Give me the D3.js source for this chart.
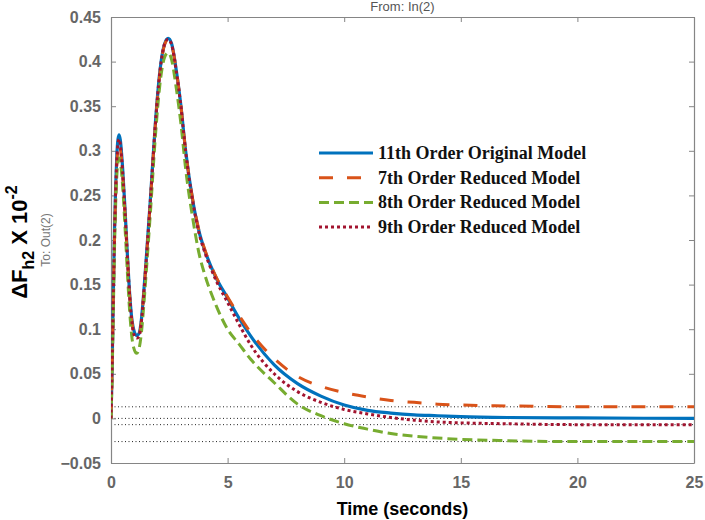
<!DOCTYPE html>
<html>
<head>
<meta charset="utf-8">
<script src="https://cdn.jsdelivr.net/npm/d3@7"></script>
<style>
  body { margin: 0; background: #fff; }
  svg { display: block; }
</style>
</head>
<body>
<div id="chart"></div>
<script>
// step response samples
const times = [0, 0.05, 0.1, 0.15, 0.2, 0.25, 0.3, 0.35, 0.4, 0.5, 0.6, 0.7, 0.8, 0.9, 1.0, 1.1, 1.2, 1.3, 1.4, 1.5, 1.7, 1.9, 2.1, 2.3, 2.45, 2.6, 2.8, 3.0, 3.2, 3.5, 3.8, 4.0, 4.5, 5, 5.5, 6, 7, 8, 9, 10, 11, 12, 13, 14, 15, 17, 20, 25]

const original11 = [0, 0.06, 0.14, 0.21, 0.26, 0.295, 0.313, 0.318, 0.312, 0.28, 0.235, 0.185, 0.14, 0.11, 0.097, 0.093, 0.095, 0.11, 0.14, 0.175, 0.25, 0.33, 0.39, 0.42, 0.426, 0.42, 0.39, 0.35, 0.30, 0.245, 0.207, 0.19, 0.158, 0.135, 0.112, 0.092, 0.060, 0.039, 0.025, 0.015, 0.009, 0.006, 0.004, 0.003, 0.002, 0.001, 0.0005, 0]
const reduced7 = [0, 0.058, 0.135, 0.2, 0.25, 0.285, 0.303, 0.308, 0.303, 0.273, 0.23, 0.182, 0.138, 0.108, 0.094, 0.091, 0.093, 0.108, 0.138, 0.173, 0.248, 0.328, 0.388, 0.419, 0.425, 0.419, 0.39, 0.35, 0.30, 0.246, 0.208, 0.191, 0.159, 0.136, 0.115, 0.096, 0.067, 0.047, 0.036, 0.029, 0.024, 0.020, 0.018, 0.016, 0.015, 0.014, 0.013, 0.013]
const reduced8 = [0, 0.05, 0.12, 0.19, 0.24, 0.272, 0.287, 0.292, 0.288, 0.26, 0.215, 0.165, 0.12, 0.09, 0.077, 0.073, 0.078, 0.095, 0.125, 0.16, 0.235, 0.315, 0.375, 0.405, 0.41, 0.402, 0.37, 0.33, 0.28, 0.225, 0.182, 0.163, 0.127, 0.10, 0.083, 0.066, 0.040, 0.016, 0.003, -0.006, -0.012, -0.017, -0.020, -0.022, -0.0235, -0.025, -0.026, -0.026]
const reduced9 = [0, 0.059, 0.138, 0.205, 0.255, 0.29, 0.308, 0.313, 0.307, 0.276, 0.232, 0.183, 0.138, 0.107, 0.093, 0.09, 0.092, 0.108, 0.138, 0.173, 0.249, 0.329, 0.389, 0.42, 0.425, 0.419, 0.389, 0.349, 0.299, 0.244, 0.205, 0.188, 0.155, 0.13, 0.105, 0.082, 0.050, 0.030, 0.018, 0.010, 0.005, 0.001, -0.002, -0.004, -0.005, -0.006, -0.007, -0.007]

const steadyValues = [0.013, 0, -0.007, -0.026]

const seriesNames = ["11th Order Original Model", "7th Order Reduced Model", "8th Order Reduced Model", "9th Order Reduced Model"]
const seriesColors = ["#0072BD", "#D95319", "#77AC30", "#A2142F"]
const seriesDashes = [null, "14,14", "10,5", "3,3"]

const xTicks = [0, 5, 10, 15, 20, 25]
const yTicks = [-0.05, 0, 0.05, 0.1, 0.15, 0.2, 0.25, 0.3, 0.35, 0.4, 0.45]

var width = 705,
    height = 520

var plot = { left: 111, right: 694, top: 17, bottom: 463 }

var svg = d3.select("#chart")
  .append("svg")
  .attr("width", width)
  .attr("height", height)

var x = d3.scaleLinear().domain([0, 25]).range([plot.left, plot.right])
var y = d3.scaleLinear().domain([-0.05, 0.45]).range([plot.bottom, plot.top])

svg.append("clipPath").attr("id", "plot-clip")
  .append("rect")
    .attr("x", plot.left)
    .attr("y", plot.top)
    .attr("width", plot.right - plot.left)
    .attr("height", plot.bottom - plot.top)

// steady state dotted lines
svg.append("g")
  .selectAll("line")
  .data(steadyValues)
  .enter().append("line")
    .attr("x1", x(0))
    .attr("x2", x(25))
    .attr("y1", function (d) { return y(d) })
    .attr("y2", function (d) { return y(d) })
    .attr("stroke", "#222")
    .attr("stroke-width", 1)
    .attr("stroke-dasharray", "1,2.5")

// box and ticks
var axisColor = "#858585"
var tickFont = "bold 16px 'Liberation Sans', Arial, sans-serif"

var bottomAxis = svg.append("g")
  .attr("transform", "translate(0," + plot.bottom + ")")
  .call(d3.axisBottom(x).tickValues(xTicks).tickSizeInner(-5).tickSizeOuter(0).tickPadding(14))
var topAxis = svg.append("g")
  .attr("transform", "translate(0," + plot.top + ")")
  .call(d3.axisTop(x).tickValues(xTicks).tickSizeInner(-5).tickSizeOuter(0).tickFormat(""))
var leftAxis = svg.append("g")
  .attr("transform", "translate(" + plot.left + ",0)")
  .call(d3.axisLeft(y).tickValues(yTicks).tickSizeInner(-5).tickSizeOuter(0).tickPadding(10)
    .tickFormat(function (d) { return d3.format("")(+d.toFixed(2)) }))
var rightAxis = svg.append("g")
  .attr("transform", "translate(" + plot.right + ",0)")
  .call(d3.axisRight(y).tickValues(yTicks).tickSizeInner(-5).tickSizeOuter(0).tickFormat(""))

;[bottomAxis, topAxis, leftAxis, rightAxis].forEach(function (g) {
  g.select(".domain").attr("stroke", axisColor).attr("stroke-width", 1.2)
  g.selectAll(".tick line").attr("stroke", axisColor)
  g.selectAll(".tick text")
    .attr("fill", "#666")
    .style("font", tickFont)
})

// response curves
var line = d3.line()
  .x(function (d) { return x(d[0]) })
  .y(function (d) { return y(d[1]) })
  .curve(d3.curveMonotoneX)

var seriesValues = [original11, reduced7, reduced8, reduced9]

var curves = svg.append("g").attr("clip-path", "url(#plot-clip)")

seriesValues.forEach(function (values, i) {
  curves.append("path")
    .datum(times.map(function (t, j) { return [t, values[j]] }))
    .attr("d", line)
    .attr("fill", "none")
    .attr("stroke", seriesColors[i])
    .attr("stroke-width", i == 0 ? 3.2 : 3)
    .attr("stroke-dasharray", seriesDashes[i])
})

// legend
var legend = svg.append("g").attr("transform", "translate(319,153)")

seriesNames.forEach(function (name, i) {
  var row = legend.append("g").attr("transform", "translate(0," + (i * 24.7) + ")")
  row.append("line")
    .attr("x1", 0).attr("x2", 54)
    .attr("y1", 0).attr("y2", 0)
    .attr("stroke", seriesColors[i])
    .attr("stroke-width", 3)
    .attr("stroke-dasharray", seriesDashes[i])
  row.append("text")
    .attr("x", 59)
    .attr("y", 6)
    .attr("fill", "#111")
    .style("font", "bold 18px 'Liberation Serif', 'Times New Roman', serif")
    .text(name)
})

// titles
svg.append("text")
  .attr("x", (plot.left + plot.right) / 2)
  .attr("y", 11)
  .attr("text-anchor", "middle")
  .attr("fill", "#555")
  .style("font", "13px 'Liberation Sans', Arial, sans-serif")
  .text("From: In(2)")

svg.append("text")
  .attr("x", (plot.left + plot.right) / 2)
  .attr("y", 515)
  .attr("text-anchor", "middle")
  .attr("fill", "#000")
  .style("font", "bold 18px 'Liberation Sans', Arial, sans-serif")
  .text("Time (seconds)")

svg.append("text")
  .attr("transform", "translate(50," + ((plot.top + plot.bottom) / 2) + ") rotate(-90)")
  .attr("text-anchor", "middle")
  .attr("fill", "#777")
  .style("font", "12px 'Liberation Sans', Arial, sans-serif")
  .text("To: Out(2)")

var yLabel = svg.append("text")
  .attr("transform", "translate(27," + ((plot.top + plot.bottom) / 2 + 2) + ") rotate(-90)")
  .attr("text-anchor", "middle")
  .attr("fill", "#000")
  .style("font", "bold 22px 'Liberation Sans', Arial, sans-serif")

yLabel.append("tspan").text("\u0394F")
yLabel.append("tspan").attr("dy", 7).style("font-size", "16px").text("h2")
yLabel.append("tspan").attr("dy", -7).text(" X 10")
yLabel.append("tspan").attr("dy", -10).style("font-size", "16px").text("-2")
</script>
</body>
</html>
